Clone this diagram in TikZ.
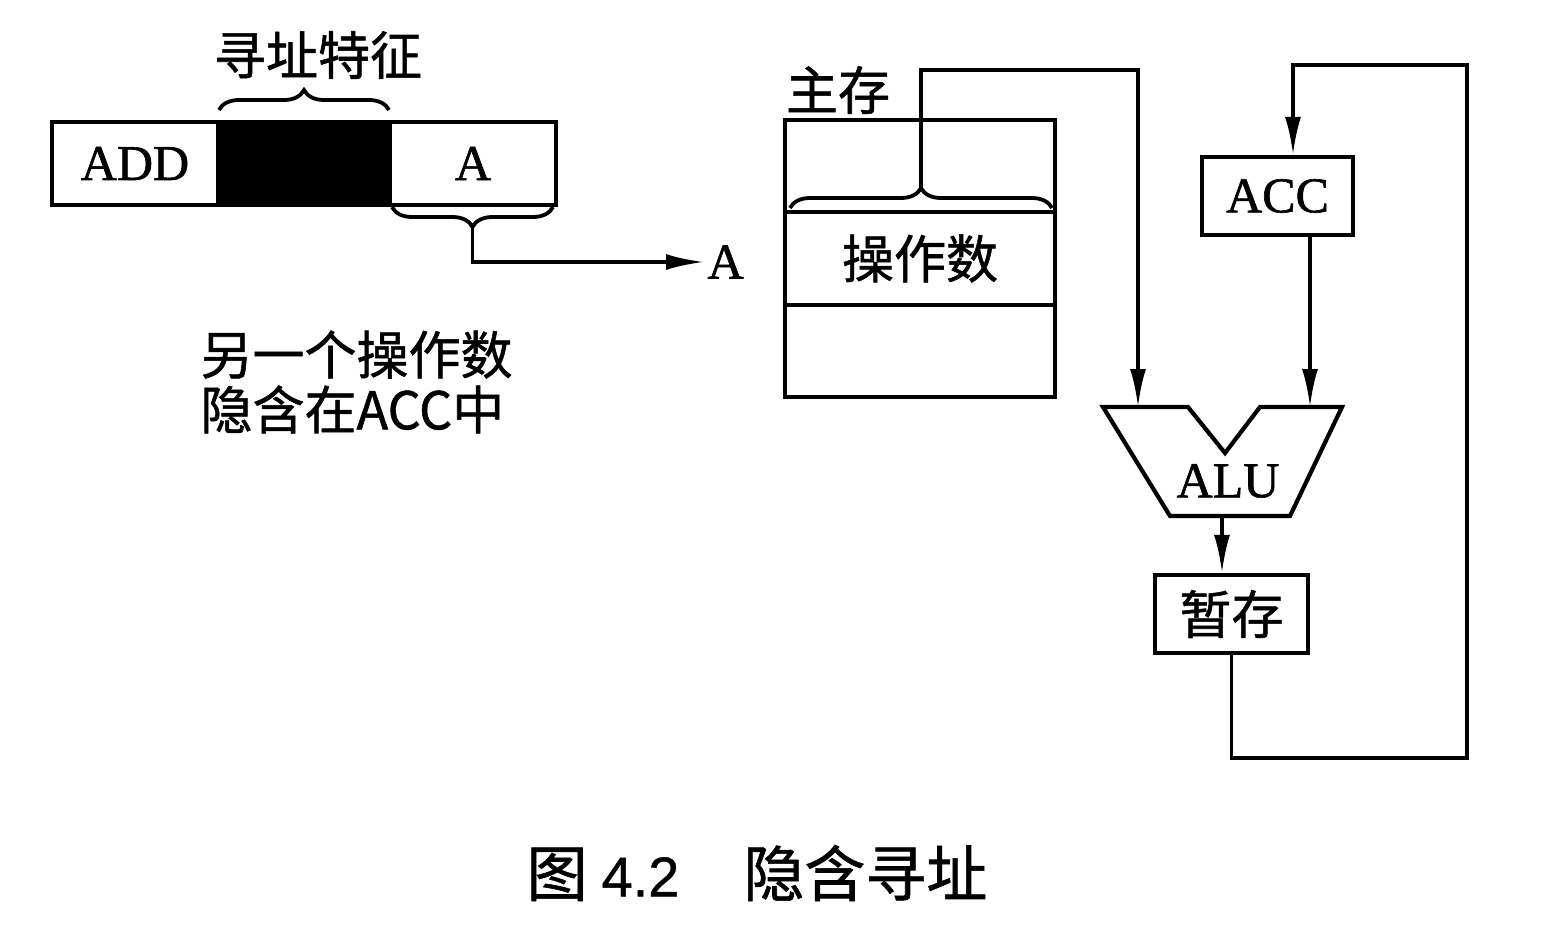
\documentclass[tikz,border=0pt]{standalone}
\usepackage{fontspec}
\setmainfont{Liberation Serif}[FakeBold=1.2]
\newfontfamily\cjk{Noto Sans CJK SC}[FakeBold=1]
\newfontfamily\capsans{Liberation Sans}[FakeBold=0.8]
\usetikzlibrary{arrows.meta,decorations.pathreplacing}
\begin{document}
\begin{tikzpicture}[x=1pt,y=-1pt,
  box/.style={draw, line width=4.2pt, inner sep=0pt},
  conn/.style={line width=3.6pt},
  arr/.style={conn, -{Latex[length=38pt,width=16pt]}},
  lat/.style={font=\fontsize{50}{56}\selectfont},
  zh/.style={font=\cjk\fontsize{52}{56}\selectfont},
  brc/.style={decorate, decoration={brace, amplitude=20pt}, line width=3.8pt}]
\useasboundingbox (0,0) rectangle (1556,934);
% instruction format
\node[box, lat, minimum width=166pt, minimum height=83pt] (add) at (135,163.5) {ADD};
\node[box, fill=black, minimum width=172pt, minimum height=83pt] (feat) at (304,163.5) {};
\node[box, lat, minimum width=166pt, minimum height=83pt] (afield) at (473,163.5) {A};
\draw[brc] (219,110) -- (389,110);
\node[zh] (xz) at (318,55) {寻址特征};
\draw[brc] (553,207) -- (392,207);
\coordinate (ta) at (472.5,227);
\node[lat, anchor=west] (alabel) at (704,262) {A};
\draw[arr] (ta) |- (alabel.west);
% note
\node[zh, align=left, anchor=west, font=\cjk\fontsize{52}{55}\selectfont] (note) at (197,382) {另一个操作数\\隐含在ACC中};
% main memory
\node[box, minimum width=270pt, minimum height=92pt] (mtop) at (920,166) {};
\node[box, zh, minimum width=270pt, minimum height=93pt] (mop) at (920,258.5) {操作数};
\node[box, minimum width=270pt, minimum height=92pt] (mbot) at (920,351) {};
\node[zh] (zc) at (838,90) {主存};
\draw[brc] (790,208) -- (1052,208);
\coordinate (tm) at (921,188);
% ALU
\coordinate (aluL) at (1103,407);
\coordinate (aluN1) at (1188,407);
\coordinate (aluV) at (1225,453);
\coordinate (aluN2) at (1260,407);
\coordinate (aluR) at (1342,407);
\coordinate (aluBR) at (1290,516);
\coordinate (aluBL) at (1170,516);
\draw[line width=4.2pt, line join=miter] (aluL) -- (aluN1) -- (aluV) -- (aluN2) -- (aluR) -- (aluBR) -- (aluBL) -- cycle;
\node[lat] (alut) at (1228,481) {ALU};
\coordinate (aluin1) at (1138,407);
\coordinate (aluin2) at (1310,407);
\coordinate (aluout) at (1222,516);
% ACC and temp
\node[box, lat, minimum width=151pt, minimum height=78pt] (acc) at (1277.5,196) {ACC};
\node[box, zh, minimum width=153pt, minimum height=78pt] (tmp) at (1231.5,614) {暂存};
% connectors
\coordinate (mc1) at (921,70);
\coordinate (mc2) at (1138,70);
\draw[arr] (tm) -- (mc1) -- (mc2) -- (aluin1);
\draw[arr] (aluin2 |- acc.south) -- (aluin2);
\draw[arr] (aluout) -- (aluout |- tmp.north);
\coordinate (lb) at (1467,758);
\coordinate (lt) at (1467,65);
\coordinate (ll) at (1293,65);
\draw[arr] (tmp.south) |- (lb) -- (lt) -- (ll) -- (ll |- acc.north);
% caption
\node[anchor=west] (cap) at (523,873) {\cjk\fontsize{61}{61}\selectfont 图\hspace{14pt}{\capsans\fontsize{56}{56}\selectfont 4.2}\hspace{64pt}隐含寻址};
\end{tikzpicture}
\end{document}
